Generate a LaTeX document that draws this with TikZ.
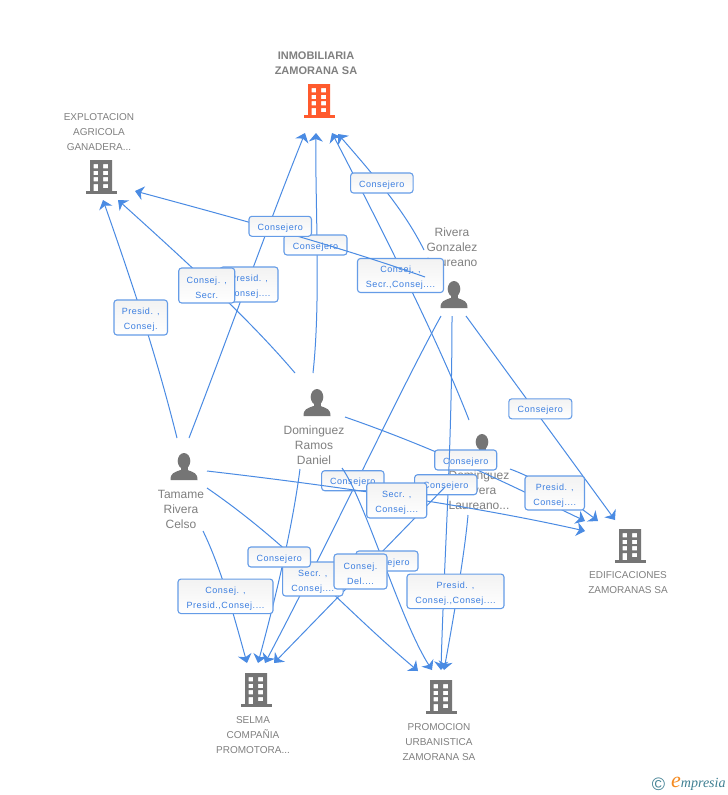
\documentclass[tikz,border=0pt]{standalone}
\usepackage{fontspec}
\setmainfont{Liberation Sans}
\newfontfamily\boxfont[LetterSpace=6]{Liberation Sans}
\newfontfamily\logofont{Liberation Serif}
\usetikzlibrary{arrows.meta}
\definecolor{linkblue}{HTML}{4A8BE3}
\definecolor{boxtext}{HTML}{3B7EE0}
\definecolor{greytext}{HTML}{808080}
\definecolor{icongrey}{HTML}{757575}
\definecolor{iconorange}{HTML}{FF5A2D}
\definecolor{logoteal}{HTML}{3F7F92}
\definecolor{logoorange}{HTML}{F58A1F}
\tikzset{
  edge/.style={draw=linkblue,line width=1pt,-{Stealth[length=8.5pt,width=14pt,inset=2.5pt]}},
  rolebox/.style={draw=linkblue!85,line width=1.1pt,rounded corners=3pt,top color=black!5,bottom color=white,
    text=boxtext,font=\boxfont\fontsize{9}{15}\selectfont,align=center,inner sep=0pt,
    execute at begin node={\rule{0pt}{10pt}}},
  rolebox2/.style={rolebox,execute at begin node={\rule{0pt}{26pt}}},
  company/.style={text=greytext,font=\fontsize{10}{15}\selectfont,align=center,inner sep=0pt},
  person/.style={text=greytext,font=\fontsize{12}{15}\selectfont,align=center,inner sep=0pt},
  mainco/.style={text=greytext,font=\bfseries\fontsize{11}{15}\selectfont,align=center,inner sep=0pt},
  pics/bldg/.style={code={
    \fill[#1] (-4.5,31) rectangle (27,34);
    \fill[#1,even odd rule] (0,0) rectangle (22,32)
      (3.5,4.2) rectangle (8.2,8.4) (13.2,4.2) rectangle (18,8.4)
      (3.5,10.8) rectangle (8.2,15) (13.2,10.8) rectangle (18,15)
      (3.5,17.2) rectangle (8.2,21.4) (13.2,17.2) rectangle (18,21.4)
      (3.5,24) rectangle (8.2,32) (13.2,24) rectangle (18,28.2);
  }},
  pics/human/.style={code={
    \fill[icongrey] (0,8) ellipse (6.3 and 8);
    \fill[icongrey] (-3.5,12) rectangle (3.5,19);
    \fill[icongrey] (-13.5,27) .. controls (-13.5,20) and (-10,19.5) .. (-3.5,17)
      -- (3.5,17) .. controls (10,19.5) and (13.5,20) .. (13.5,27) -- cycle;
  }}
}
\begin{document}
\begin{tikzpicture}[x=1pt,y=-1pt]
\useasboundingbox (0,0) rectangle (728,795);
\fill[white] (0,0) rectangle (728,795);

% companies
\node[mainco] (inmob) at (316,63) {INMOBILIARIA\\ZAMORANA SA};
\pic at (308,84) {bldg=iconorange};
\node[company] (explot) at (99,132) {EXPLOTACION\\AGRICOLA\\GANADERA...};
\pic at (90,160) {bldg=icongrey};
\node[company] (edif) at (628,583) {EDIFICACIONES\\ZAMORANAS SA};
\pic at (619,529) {bldg=icongrey};
\node[company] (selma) at (253,735) {SELMA\\COMPAÑIA\\PROMOTORA...};
\pic at (245,673) {bldg=icongrey};
\node[company] (promo) at (439,742) {PROMOCION\\URBANISTICA\\ZAMORANA SA};
\pic at (430,680) {bldg=icongrey};

% persons
\node[person] (rivera) at (452,247) {Rivera\\Gonzalez\\Laureano};
\pic at (454,281) {human};
\node[person] (ramos) at (314,445) {Dominguez\\Ramos\\Daniel};
\pic at (317,389) {human};
\node[person] (tamame) at (181,509) {Tamame\\Rivera\\Celso};
\pic at (184,453) {human};
\node[person] (drivera) at (479,490) {Dominguez\\Rivera\\Laureano...};
\pic at (482,434) {human};

% connector ends
\coordinate (tI1) at (305,133);
\coordinate (tI2) at (316,133);
\coordinate (tI3) at (332,133);
\coordinate (tI4) at (338,134);
\coordinate (tX1) at (103,200);
\coordinate (tX2) at (118,200);
\coordinate (tX3) at (135,191);
\coordinate (tE1) at (585,531);
\coordinate (tE2) at (585,521);
\coordinate (tE3) at (598,521);
\coordinate (tE4) at (615,520);
\coordinate (tS1) at (247,663);
\coordinate (tS2) at (258,663);
\coordinate (tS3) at (265,663);
\coordinate (tS4) at (274,663);
\coordinate (tP1) at (418,671);
\coordinate (tP2) at (432,670);
\coordinate (tP3) at (441,670);
\coordinate (tP4) at (444,670);

\coordinate (sT1) at (189,438);
\coordinate (sT2) at (177,438);
\coordinate (sT3) at (207,471);
\coordinate (sT4) at (203,531);
\coordinate (sT5) at (207,488);
\coordinate (sR1) at (313,373);
\coordinate (sR2) at (295,373);
\coordinate (sR3) at (345,417);
\coordinate (sR4) at (300,469);
\coordinate (sR5) at (342,468);
\coordinate (sG1) at (425,277);
\coordinate (sG2) at (424,250);
\coordinate (sG3) at (441,316);
\coordinate (sG4) at (452,316);
\coordinate (sG5) at (466,316);
\coordinate (sD1) at (469,420);
\coordinate (sD2) at (510,469);
\coordinate (sD3) at (445,487);
\coordinate (sD4) at (468,515);

% connectors and role boxes, in stacking order
\draw[edge] (sT1) .. controls (225,345) and (268,225) .. (tI1);
\node[rolebox2,minimum width=58pt,minimum height=35pt] (b01) at (249,284.5) {Presid. ,\\Consej....};
\draw[edge] (sT2) .. controls (160,370) and (140,305) .. (tX1);
\node[rolebox2,minimum width=53.5pt,minimum height=35pt] (b02) at (140.7,317.5) {Presid. ,\\Consej.};
\draw[edge] (sR2) .. controls (250,320) and (190,265) .. (tX2);
\node[rolebox2,minimum width=56pt,minimum height=35pt] (b03) at (206.7,285.5) {Consej. ,\\Secr.};
\draw[edge] (sR1) .. controls (321,300) and (315,200) .. (tI2);
\node[rolebox,minimum width=63pt,minimum height=20pt] (b04) at (315.5,245) {Consejero};
\draw[edge] (sD1) .. controls (440,345) and (385,235) .. (tI3);
\node[rolebox2,minimum width=86pt,minimum height=34pt] (b05) at (400.5,275.5) {Consej. ,\\Secr.,Consej....};
\draw[edge] (sG2) .. controls (405,212) and (378,180) .. (tI4);
\node[rolebox,minimum width=62.5pt,minimum height=20pt] (b06) at (381.8,183) {Consejero};
\draw[edge] (sG1) .. controls (340,247) and (250,222) .. (tX3);
\node[rolebox,minimum width=62.5pt,minimum height=20pt] (b07) at (280.2,226.3) {Consejero};
\draw[edge] (sG5) -- (tE4);
\node[rolebox,minimum width=63pt,minimum height=20pt] (b08) at (540.3,408.8) {Consejero};

\draw[edge] (sR3) .. controls (440,450) and (510,485) .. (tE2);
\node[rolebox,minimum width=62pt,minimum height=20pt] (b09) at (465.7,460) {Consejero};
\draw[edge] (sD2) .. controls (540,480) and (570,500) .. (tE3);
\node[rolebox2,minimum width=59.5pt,minimum height=34pt] (b10) at (554.7,493) {Presid. ,\\Consej....};

\draw[edge] (sG3) .. controls (400,390) and (330,540) .. (tS3);
\node[rolebox,minimum width=62.3pt,minimum height=20pt] (b11) at (352.8,480.7) {Consejero};
\draw[edge] (sG4) .. controls (452,450) and (444,560) .. (tP3);
\node[rolebox,minimum width=62.3pt,minimum height=20pt] (b12) at (445.8,484.7) {Consejero};
\draw[edge] (sD3) -- (tS4);
\draw[edge] (sT3) .. controls (320,484) and (470,505) .. (tE1);
\node[rolebox2,minimum width=60pt,minimum height=35pt] (b13) at (396.7,500.5) {Secr. ,\\Consej....};

\draw[edge] (sT5) .. controls (290,545) and (340,605) .. (tP1);
\node[rolebox2,minimum width=60.5pt,minimum height=34pt] (b14) at (312.8,579) {Secr. ,\\Consej....};
\draw[edge] (sR4) .. controls (292,530) and (275,600) .. (tS2);
\node[rolebox,minimum width=62.5pt,minimum height=20pt] (b15) at (279.2,557) {Consejero};
\draw[edge] (sT4) .. controls (222,570) and (235,620) .. (tS1);
\node[rolebox2,minimum width=95pt,minimum height=34.5pt] (b16) at (225.5,596.3) {Consej. ,\\Presid.,Consej....};
\draw[edge] (sR5) .. controls (365,500) and (400,620) .. (tP2);
\node[rolebox,minimum width=62pt,minimum height=20pt] (b17) at (387,561) {Consejero};
\node[rolebox2,minimum width=53pt,minimum height=35pt] (b18) at (360.5,571.5) {Consej.\\Del....};
\draw[edge] (sD4) .. controls (465,550) and (455,610) .. (tP4);
\node[rolebox2,minimum width=97pt,minimum height=34.5pt] (b19) at (455.5,591.3) {Presid. ,\\Consej.,Consej....};

% logo
\node[inner sep=0pt,text=logoteal,font=\fontsize{18}{18}\selectfont] (copy) at (658.5,784) {©};
\node[inner sep=0pt,anchor=west,text=logoteal,font=\logofont\itshape\fontsize{14}{14}\selectfont] (logo) at (671,784)
  {\textcolor{logoorange}{\fontsize{22}{14}\selectfont e}mpresia};
\end{tikzpicture}
\end{document}
